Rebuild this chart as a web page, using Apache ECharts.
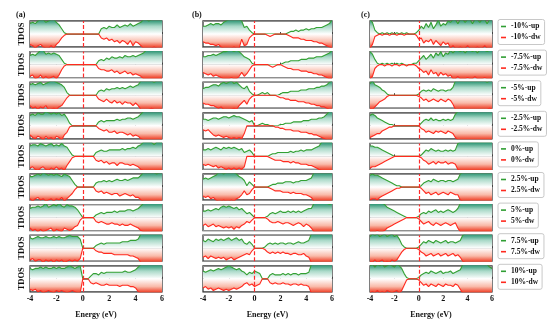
<!DOCTYPE html>
<html><head><meta charset="utf-8">
<script src="https://cdn.jsdelivr.net/npm/echarts@6/dist/echarts.min.js"></script>
<style>html,body{margin:0;padding:0;background:#fff}#c{width:550px;height:323px}</style>
</head><body><div id="c"></div>
<script>
// Energy grid (eV)
const energy = [-4,-3.8,-3.6,-3.4,-3.2,-3,-2.8,-2.6,-2.4,-2.2,-2,-1.8,-1.6,-1.4,-1.2,-1,-0.8,-0.6,-0.4,-0.2,0,0.2,0.4,0.6,0.8,1,1.2,1.4,1.6,1.8,2,2.2,2.4,2.6,2.8,3,3.2,3.4,3.6,3.8,4,4.2,4.4,4.6,4.8,5,5.2,5.4,5.6,5.8,6];
const strainLabels = ['-10%','-7.5%','-5%','-2.5%','0%','2.5%','5%','7.5%','10%'];
const panelLetters = ['(a)','(b)','(c)'];

// Column (a): spin up / spin down TDOS (axis clipped at +/-10)
const aUp = [
[8,9,8,10,11,11,9,10,11,11, 9,7,4,1,0,0,0,0,0,0, 0,0,0,0,0,0,0,4,5,4, 6,5,5,7,5,6,7,6,8,6, 7,8,9,11,11,10,11,11,11,11, 11],
[7,8,7,9,11,11,8,9,8,9, 8,7,4,1,0,0,0,0,0,0, 0,0,0,0,0,0,3,4,3,5, 4,6,5,5,6,5,7,6,6,7, 6,7,8,9,11,11,11,11,11,11, 11],
[8,9,8,9,10,8,9,10,11,11, 10,9,8,6,2,0,0,0,0,0, 0,0,0,0,0,0,3,4,3,5, 4,5,5,6,5,6,5,6,7,6, 7,8,11,11,11,11,11,10,11,11, 11],
[8,9,8,10,9,9,11,10,9,10, 9,10,8,9,6,2,0,0,0,0, 0,0,0,0,0,0,3,4,3,4, 4,4,4,5,4,5,5,6,6,5, 6,7,9,11,11,11,11,11,11,11, 11],
[8,9,9,8,10,9,8,9,10,8, 9,8,10,8,7,4,1,0,0,0, 0,0,0,0,0,3,4,5,4,4, 5,5,5,5,5,6,5,6,6,7, 6,8,9,11,11,11,11,9,11,11, 11],
[8,8,9,10,9,11,10,9,10,9, 10,9,8,10,9,8,5,2,0,0, 0,0,0,0,0,3,4,4,5,4, 5,4,5,6,5,5,6,5,6,7, 7,7,9,11,11,11,11,11,10,11, 11],
[7,8,8,9,8,9,11,8,9,10, 9,11,9,8,10,9,9,8,6,3, 0,0,0,0,0,2,3,4,3,4, 4,4,5,4,5,5,5,6,6,5, 6,7,9,11,11,11,11,11,11,11, 11],
[8,7,8,9,8,8,9,8,8,9, 8,9,8,8,9,10,9,9,9,7, 0,0,0,0,0,2,3,4,3,4, 4,4,4,4,4,5,5,5,6,6, 6,7,11,11,11,11,11,11,11,11, 11],
[8,7,8,8,9,8,9,8,8,9, 8,9,8,8,9,10,9,8,9,10, 0,0,0,2,4,4,3,5,4,5, 5,5,5,5,5,5,6,5,5,6, 7,9,11,11,11,11,11,11,11,11, 11]
];
const aDw = [
[-8,-9,-11,-9,-8,-10,-11,-11,-9,-11, -8,-6,-3,-1,0,0,0,0,0,0, 0,0,0,0,0,0,0,-3,-4,-3, -5,-4,-6,-5,-7,-5,-6,-8,-5,-9, -6,-7,-9,-11,-11,-11,-11,-10,-11,-11, -11],
[-9,-8,-11,-10,-8,-11,-9,-11,-10,-9, -11,-8,-4,-1,0,0,0,0,0,0, 0,0,0,0,0,0,-3,-4,-4,-5, -5,-4,-6,-5,-7,-6,-5,-7,-6,-8, -7,-8,-9,-11,-11,-11,-11,-11,-11,-11, -11],
[-8,-10,-9,-11,-9,-10,-8,-11,-11,-10, -11,-9,-8,-5,-2,0,0,0,0,0, 0,0,0,0,0,0,-3,-4,-5,-3, -5,-6,-4,-6,-5,-7,-5,-6,-6,-8, -6,-8,-11,-11,-11,-11,-10,-11,-11,-11, -11],
[-7,-9,-10,-8,-9,-11,-8,-10,-9,-11, -8,-9,-11,-7,-5,-1,0,0,0,0, 0,0,0,0,0,0,-2,-3,-4,-3, -5,-5,-4,-6,-5,-5,-6,-7,-6,-8, -7,-8,-10,-11,-11,-11,-11,-11,-11,-11, -11],
[-9,-8,-10,-11,-9,-8,-10,-11,-9,-10, -8,-10,-9,-11,-7,-4,-1,0,0,0, 0,0,0,0,0,-3,-4,-3,-5,-4, -6,-5,-5,-7,-5,-5,-6,-6,-7,-6, -7,-8,-10,-11,-11,-11,-11,-11,-11,-11, -11],
[-9,-11,-9,-8,-10,-9,-11,-10,-9,-11, -9,-10,-8,-11,-9,-7,-5,-2,0,0, 0,0,0,0,0,-3,-4,-3,-5,-4, -5,-6,-5,-5,-7,-6,-5,-6,-7,-6, -8,-8,-10,-11,-11,-11,-11,-11,-11,-11, -11],
[-8,-10,-9,-11,-9,-11,-10,-9,-8,-11, -9,-10,-11,-8,-9,-10,-9,-7,-6,-2, 0,0,0,0,0,-3,-4,-3,-4,-5, -5,-4,-5,-5,-6,-5,-6,-6,-5,-6, -7,-8,-10,-11,-11,-11,-11,-11,-11,-11, -11],
[-9,-8,-10,-9,-9,-11,-9,-10,-9,-11, -9,-10,-9,-11,-10,-9,-10,-9,-10,-8, 0,0,0,0,0,-2,-3,-3,-4,-4, -4,-4,-5,-5,-5,-5,-5,-5,-6,-6, -7,-8,-11,-11,-11,-11,-11,-11,-11,-11, -11],
[-8,-9,-8,-10,-9,-11,-10,-9,-10,-11, -9,-10,-9,-10,-11,-10,-9,-10,-11,-11, 0,0,0,-3,-4,-3,-4,-5,-5,-4, -5,-5,-5,-5,-6,-5,-5,-5,-6,-6, -7,-10,-11,-11,-11,-11,-11,-11,-11,-11, -11]
];

// Column (b)
const bUp = [
[6,6,7,8,7,8,8,7,9,10, 11,11,11,11,11,10,5,6,3,1, 0,0,0,0,0,0,0,0,0,0, 0,0,0,1,2,2,3,2,3,3, 4,3,4,4,5,5,5,6,7,8, 11],
[6,6,7,7,8,7,8,9,10,10, 11,11,10,11,10,8,6,5,4,1, 0,0,0,0,0,0,0,0,0,0, 0,1,2,2,3,3,3,3,4,4, 4,5,5,5,6,6,6,7,8,9, 11],
[5,6,6,7,8,8,7,9,10,9, 10,11,9,10,8,6,5,7,3,1, 0,0,1,2,1,2,0,0,0,0, 1,2,2,2,3,3,3,3,4,4, 4,5,5,5,6,6,7,7,8,10, 11],
[5,5,4,5,6,6,5,6,7,7, 6,7,8,7,7,6,5,4,3,4, 0,0,1,2,1,1,0,0,0,0, 1,1,2,2,2,3,3,3,3,4, 4,4,5,5,5,6,6,7,9,11, 11],
[5,5,6,5,6,7,6,5,7,6, 7,6,7,6,5,6,3,4,5,3, 0,0,0,0,0,0,1,2,2,3, 3,3,3,3,4,3,4,4,5,4, 5,5,5,6,7,8,11,11,11,11, 11],
[6,7,6,7,8,9,11,11,10,11, 11,11,11,10,8,7,5,1,4,2, 0,0,0,0,0,0,1,2,2,3, 3,3,4,4,4,3,4,4,5,5, 5,6,7,11,11,11,11,11,11,11, 11],
[5,5,6,5,6,7,6,8,9,8, 9,8,7,8,6,7,5,3,4,2, 0,0,0,0,0,1,3,4,3,4, 5,4,4,5,4,5,4,5,4,5, 6,7,7,11,11,11,11,11,11,10, 11],
[6,5,7,6,5,7,6,7,6,7, 8,6,7,8,6,7,4,3,5,3, 0,0,0,0,1,3,4,3,4,3, 4,4,3,4,4,3,4,5,4,4, 5,6,11,11,11,11,11,11,11,11, 11],
[6,5,6,7,6,7,8,7,8,9, 10,9,8,7,8,6,5,3,5,4, 6,5,4,0,0,0,3,4,3,3, 3,4,3,4,3,4,4,3,4,4, 4,5,11,11,11,11,11,11,11,11, 11]
];
const bDw = [
[-6,-7,-7,-8,-8,-9,-8,-10,-11,-11, -11,-11,-10,-11,-11,-4,-9,-8,-3,-1, 0,0,0,0,0,-1,-2,-1,0,0, 0,0,0,-1,-2,-3,-3,-3,-4,-4, -5,-5,-5,-6,-6,-7,-7,-8,-9,-10, -11],
[-6,-7,-8,-7,-9,-8,-9,-10,-11,-11, -11,-10,-11,-11,-9,-6,-9,-7,-4,-1, 0,0,0,0,0,0,-1,-2,-1,0, 0,-1,-2,-3,-3,-4,-4,-4,-5,-5, -5,-6,-6,-7,-7,-8,-8,-9,-10,-11, -11],
[-6,-7,-7,-8,-8,-9,-10,-9,-11,-11, -11,-11,-10,-11,-8,-6,-4,-7,-3,-1, 0,0,0,0,0,0,0,0,0,-1, -2,-2,-3,-3,-4,-4,-4,-5,-5,-5, -6,-6,-7,-7,-8,-8,-9,-9,-10,-11, -11],
[-3,-4,-3,-5,-7,-8,-7,-8,-9,-8, -9,-10,-9,-10,-9,-10,-6,0,0,0, 0,0,0,0,0,0,0,0,-1,-1, -2,-2,-3,-3,-3,-4,-4,-4,-5,-5, -5,-6,-6,-7,-7,-8,-9,-10,-11,-11, -11],
[-6,-7,-6,-7,-8,-7,-9,-8,-9,-10, -9,-10,-9,-10,-9,-10,-8,0,0,0, 0,0,0,0,0,0,-1,-2,-3,-3, -3,-4,-4,-4,-5,-4,-5,-5,-6,-6, -6,-7,-7,-8,-9,-10,-11,-11,-11,-11, -11],
[-7,-8,-7,-9,-8,-10,-11,-11,-10,-11, -11,-10,-11,-9,-8,-6,-3,-6,-5,-2, 0,0,0,0,0,0,-1,-2,-3,-3, -3,-4,-4,-4,-5,-4,-5,-5,-5,-6, -6,-7,-8,-11,-11,-11,-11,-11,-11,-11, -11],
[-6,-5,-7,-6,-5,-7,-6,-7,-8,-7, -8,-7,-9,-7,-8,-6,-5,-3,-4,-2, 0,0,0,0,0,-1,-3,-4,-4,-3, -4,-5,-4,-4,-5,-6,-5,-4,-5,-7, -5,-6,-8,-11,-11,-11,-11,-11,-11,-11, -11],
[-7,-6,-8,-6,-7,-8,-7,-8,-7,-9, -8,-7,-9,-8,-7,-6,-5,-4,-5,-2, 0,0,0,0,-1,-3,-4,-3,-4,-3, -4,-3,-4,-4,-5,-4,-4,-5,-5,-4, -6,-7,-11,-11,-11,-11,-11,-11,-11,-11, -11],
[-7,-6,-8,-7,-9,-8,-7,-8,-9,-8, -9,-8,-7,-8,-7,-6,-4,-3,-5,-4, -6,-5,-4,0,0,0,-3,-4,-3,-4, -4,-3,-4,-4,-5,-4,-4,-5,-4,-5, -5,-6,-11,-11,-11,-11,-11,-11,-11,-11, -11]
];

// Column (c)
const cUp = [
[11,9,3,1,0,1,0,1,0,1, 0,1,0,1,0,1,0,0,0,1, 3,6,4,8,5,9,4,7,11,6, 8,7,10,9,11,11,8,11,11,9, 11,11,8,11,11,9,11,11,8,11, 11],
[10,8,4,1,0,1,0,1,0,1, 0,1,0,1,0,0,0,0,1,1, 3,5,7,4,6,8,5,9,7,10, 6,9,8,11,9,11,11,10,11,9, 11,11,10,11,9,11,11,11,10,11, 11],
[9,11,8,7,6,4,3,1,0,0, 0,0,0,0,0,0,0,0,0,0, 1,3,4,3,4,3,5,4,3,4, 4,3,4,4,6,11,11,11,11,11, 11,11,11,11,11,11,11,11,10,11, 11],
[8,9,8,6,5,4,3,2,1,1, 0,0,0,0,0,0,0,0,0,0, 0,2,4,5,4,6,4,5,4,4, 5,4,5,4,5,9,11,11,11,11, 11,11,11,11,11,11,11,11,11,11, 11],
[8,8,7,7,6,5,4,3,2,1, 0,0,0,0,0,0,0,0,0,0, 0,1,3,5,4,6,5,4,5,4, 4,5,4,5,4,5,10,11,11,11, 11,11,11,11,11,11,11,11,11,11, 11],
[9,10,9,9,8,7,6,5,4,3, 2,1,1,0,0,0,0,0,0,0, 0,1,3,4,5,4,6,5,4,5, 5,4,5,5,4,5,6,10,11,11, 11,11,11,11,11,11,11,11,11,11, 11],
[11,11,11,11,11,11,10,8,7,6, 5,4,3,2,1,0,0,0,0,0, 1,3,4,3,5,4,5,6,4,5, 4,5,6,5,4,5,7,11,11,11, 11,11,11,11,11,11,11,11,11,11, 11],
[9,11,10,11,9,10,11,9,10,11, 9,10,7,3,1,0,0,0,0,0, 1,3,5,4,6,5,4,6,5,4, 5,6,4,5,5,4,5,6,10,11, 11,11,11,11,11,11,11,11,11,11, 11],
[10,11,9,11,10,11,9,10,11,10, 9,11,10,8,4,1,0,0,0,0, 1,3,4,5,4,6,5,4,5,6, 4,5,5,6,4,5,6,7,11,11, 11,11,11,11,11,11,11,11,11,9, 8]
];
const cDw = [
[-11,-8,-2,-1,0,-1,0,0,-1,0, 0,-1,0,0,-1,0,0,0,0,-1, -4,-3,-7,-5,-6,-4,-8,-5,-7,-9, -6,-8,-7,-11,-9,-11,-11,-10,-11,-11, -9,-11,-11,-11,-10,-11,-11,-9,-11,-11, -11],
[-11,-9,-3,-1,0,0,-1,0,0,-1, 0,0,-1,0,0,-1,0,0,0,-1, -3,-4,-6,-5,-8,-4,-7,-6,-9,-6, -8,-7,-9,-8,-11,-11,-9,-11,-11,-11, -10,-11,-11,-9,-11,-11,-11,-10,-11,-11, -11],
[-10,-11,-9,-7,-5,-4,-3,-1,0,0, 0,0,0,0,0,0,0,0,0,0, -1,-2,-4,-3,-5,-4,-3,-4,-5,-3, -4,-5,-3,-4,-7,-11,-11,-11,-11,-11, -11,-11,-11,-11,-11,-11,-11,-11,-11,-10, -11],
[-9,-8,-7,-6,-6,-4,-3,-2,-1,-1, 0,0,0,0,0,0,0,0,0,0, 0,-2,-3,-5,-4,-5,-6,-4,-5,-4, -5,-6,-4,-5,-6,-9,-11,-11,-11,-11, -11,-11,-11,-11,-11,-11,-11,-11,-11,-11, -11],
[-9,-8,-8,-7,-6,-5,-4,-3,-2,-1, 0,0,0,0,0,0,0,0,0,0, 0,-1,-3,-4,-6,-5,-4,-6,-4,-5, -5,-4,-6,-5,-5,-6,-10,-11,-11,-11, -11,-11,-11,-11,-11,-11,-11,-11,-11,-11, -11],
[-10,-9,-9,-10,-8,-7,-6,-5,-4,-3, -2,-1,-1,0,0,0,0,0,0,0, 0,-1,-3,-5,-4,-6,-5,-4,-6,-5, -4,-5,-6,-4,-5,-6,-6,-10,-11,-11, -11,-11,-11,-11,-11,-11,-11,-11,-11,-11, -11],
[-11,-11,-11,-10,-11,-11,-10,-8,-7,-6, -5,-4,-3,-2,-1,0,0,0,0,0, -1,-3,-5,-4,-3,-5,-6,-4,-5,-6, -5,-4,-5,-6,-5,-4,-8,-11,-11,-11, -11,-11,-11,-11,-11,-11,-11,-11,-11,-11, -11],
[-10,-11,-9,-11,-10,-9,-11,-10,-11,-9, -10,-9,-6,-3,-1,0,0,0,0,0, -1,-3,-4,-6,-5,-4,-6,-5,-4,-6, -5,-4,-6,-5,-4,-6,-5,-7,-10,-11, -11,-11,-11,-11,-11,-11,-11,-11,-11,-11, -11],
[-11,-10,-11,-9,-11,-10,-11,-9,-10,-11, -10,-9,-11,-9,-5,-1,0,0,0,0, -1,-3,-5,-4,-6,-4,-5,-6,-4,-5, -6,-4,-5,-5,-6,-4,-5,-8,-11,-11, -11,-11,-11,-11,-11,-11,-11,-11,-11,-11, -11]
];

const FONT = '"Liberation Serif","Times New Roman",serif';
const colLeft = [30, 203, 370], colWidth = [132, 129, 122];
const rowTop0 = 21, rowPitch = 30.6, panelH = 26;
const cols = [[aUp, aDw], [bUp, bDw], [cUp, cDw]];
const txt = (size) => ({fontFamily: FONT, fontWeight: 'bold', fontSize: size, color: '#111'});

const grid = [], xAxis = [], yAxis = [], series = [], legend = [];
let gi = 0;
for (let c = 0; c < 3; c++) {
  for (let r = 0; r < 9; r++) {
    const top = rowTop0 + rowPitch * r;
    grid.push({left: colLeft[c], top: top, width: colWidth[c], height: panelH, show: true,
      borderColor: '#3a3a3a', borderWidth: 1.3, backgroundColor: 'transparent'});
    xAxis.push({type: 'value', gridIndex: gi, min: -4, max: 6, interval: 2,
      axisLine: {show: false}, splitLine: {show: false},
      axisTick: {show: true, inside: true, length: 2, lineStyle: {color: '#444'}},
      axisLabel: Object.assign({show: r === 8, margin: 3}, txt(8)),
      name: r === 8 ? 'Energy (eV)' : '', nameLocation: 'middle', nameGap: 19, nameTextStyle: txt(8)});
    yAxis.push({type: 'value', gridIndex: gi, min: -10, max: 10, interval: 10,
      axisLine: {show: false}, axisTick: {show: false}, axisLabel: {show: false},
      splitLine: {show: true, lineStyle: {color: '#8f8f8f', width: 1.1}},
      name: c === 0 ? 'TDOS' : '', nameLocation: 'middle', nameGap: 4, nameTextStyle: txt(8.5)});
    const up = cols[c][0][r], dw = cols[c][1][r];
    const nm = (c === 2 ? '' : panelLetters[c]) + strainLabels[r];
    const mid = top + panelH / 2, bot = top + panelH;
    series.push({type: 'line', name: nm + '-up', xAxisIndex: gi, yAxisIndex: gi, z: 2,
      data: energy.map((e, i) => [e, up[i]]), showSymbol: false, symbol: 'none', color: '#2f9e33',
      lineStyle: {color: '#33a033', width: 1.1},
      areaStyle: {opacity: 1, color: new echarts.graphic.LinearGradient(0, top, 0, mid,
        [{offset: 0, color: '#3a9c7c'}, {offset: 0.4, color: '#a9d9c8'}, {offset: 1, color: '#ffffff'}], true)}
    });
    series.push({type: 'line', name: nm + '-dw', xAxisIndex: gi, yAxisIndex: gi, z: 3,
      data: energy.map((e, i) => [e, dw[i]]), showSymbol: false, symbol: 'none', color: '#ff2a1f',
      lineStyle: {color: '#ff2a1f', width: 1.1},
      areaStyle: {opacity: 1, color: new echarts.graphic.LinearGradient(0, mid, 0, bot,
        [{offset: 0, color: '#ffffff'}, {offset: 0.6, color: '#f9baa9'}, {offset: 1, color: '#f04a32'}], true)},
      markLine: {silent: true, symbol: 'none', animation: false, label: {show: false},
        data: [{xAxis: 0, lineStyle: {color: '#ff2a2a', width: 1.2, type: [4, 2]}}]}
    });
    if (c === 2) {
      legend.push({orient: 'vertical', left: 498, top: top - 1.5, icon: 'rect', itemWidth: 5, itemHeight: 1.6,
        itemGap: 3, padding: [3, 4, 3, 3], borderColor: '#c8c8c8', borderWidth: 1, borderRadius: 2,
        selectedMode: false, textStyle: txt(7.5), data: [nm + '-up', nm + '-dw']});
    }
    gi++;
  }
}

const title = panelLetters.map((t, i) => ({text: t, left: [16, 192, 361][i], top: 11, padding: 0, textStyle: txt(8)}));

const chart = echarts.init(document.getElementById('c'), null, {renderer: 'canvas'});
chart.setOption({animation: false, backgroundColor: '#fff', title, grid, xAxis, yAxis, series, legend});
</script></body></html>
